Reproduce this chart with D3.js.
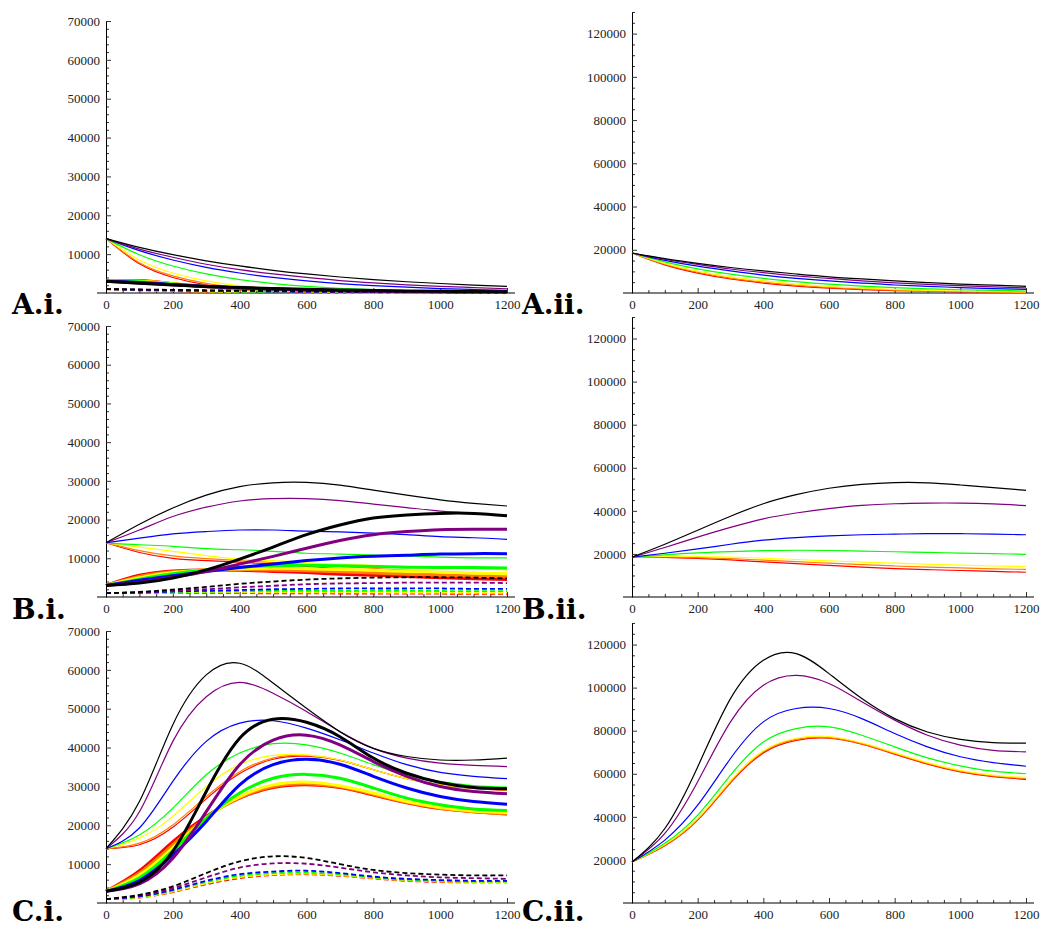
<!DOCTYPE html>
<html>
<head>
<meta charset="utf-8">
<script src="https://cdn.jsdelivr.net/npm/d3@7/dist/d3.min.js"></script>
<style>
  body { margin: 0; background: #ffffff; }
  .tick text { font-family: "Liberation Serif", "Times New Roman", serif; font-size: 13px; fill: #222; }
  .panelLabel { font-family: "DejaVu Serif", serif; font-weight: bold; font-size: 28px; fill: #000; }
</style>
</head>
<body>
<div class="myChart"></div>
<script>
// time points (x) shared by every curve
var xs = [0, 100, 200, 300, 400, 500, 600, 700, 800, 900, 1000, 1100, 1200]

// series order in every group: red, orange, yellow, green, blue, purple, black
var seriesNames = ['red', 'orange', 'yellow', 'green', 'blue', 'purple', 'black']
var seriesColors = ['#ff0000', '#ff8000', '#ffff00', '#00ff00', '#0000ff', '#800080', '#000000']

var xTicks = [0, 200, 400, 600, 800, 1000, 1200]
var yTicksLeft = [10000, 20000, 30000, 40000, 50000, 60000, 70000]
var yTicksRight = [20000, 40000, 60000, 80000, 100000, 120000]

// ---- A.i ----
var aiThin = [
    [14000, 7500, 4000, 2100, 1150, 600, 330, 180, 100, 50, 30, 15, 10],
    [14000, 7800, 4400, 2460, 1380, 770, 430, 240, 135, 75, 42, 24, 13],
    [14000, 8500, 5150, 3120, 1900, 1150, 700, 420, 255, 155, 94, 57, 35],
    [14000, 9860, 6950, 4900, 3450, 2430, 1710, 1200, 850, 600, 420, 300, 210],
    [14000, 10900, 8500, 6600, 5150, 4000, 3100, 2400, 1900, 1500, 1150, 900, 700],
    [14000, 11300, 9200, 7400, 6000, 4900, 4000, 3200, 2600, 2100, 1700, 1400, 1100],
    [14000, 11750, 9870, 8290, 6960, 5840, 4900, 4120, 3460, 2900, 2440, 2050, 1720]
]
var aiThick = [
    [3000, 3200, 2400, 1600, 1000, 650, 400, 250, 150, 100, 60, 40, 20],
    [3000, 3100, 2400, 1700, 1100, 750, 500, 320, 200, 130, 90, 60, 40],
    [3000, 3000, 2400, 1700, 1200, 800, 550, 380, 260, 180, 120, 80, 60],
    [3000, 2900, 2300, 1700, 1250, 900, 650, 460, 330, 240, 170, 120, 90],
    [3000, 2700, 2200, 1700, 1300, 1000, 750, 560, 420, 310, 230, 170, 130],
    [3000, 2600, 2100, 1700, 1350, 1050, 820, 640, 500, 390, 300, 240, 180],
    [3000, 2500, 2050, 1700, 1400, 1150, 950, 780, 640, 530, 440, 360, 300]
]
var aiDash = [
    [1000, 700, 490, 340, 240, 170, 120, 80, 60, 40, 30, 20, 15],
    [1000, 720, 520, 370, 270, 190, 140, 100, 70, 50, 40, 30, 20],
    [1000, 740, 550, 400, 300, 220, 160, 120, 90, 70, 50, 40, 30],
    [1000, 780, 600, 470, 370, 290, 220, 170, 130, 100, 80, 60, 50],
    [1000, 820, 670, 550, 450, 370, 300, 250, 200, 170, 140, 110, 90],
    [1000, 850, 720, 610, 520, 440, 370, 310, 260, 220, 190, 160, 130],
    [1000, 900, 800, 700, 620, 540, 470, 410, 360, 310, 270, 240, 210]
]

// ---- A.ii ----
var aiiThin = [
    [18500, 13000, 9200, 6500, 4600, 3200, 2300, 1600, 1100, 800, 560, 400, 280],
    [18500, 13300, 9600, 6900, 5000, 3600, 2600, 1900, 1300, 950, 690, 500, 360],
    [18500, 13700, 10100, 7500, 5600, 4100, 3000, 2300, 1700, 1250, 920, 680, 500],
    [18500, 14400, 11200, 8700, 6800, 5300, 4100, 3200, 2500, 1950, 1500, 1200, 920],
    [18500, 15100, 12400, 10200, 8300, 6800, 5600, 4600, 3700, 3100, 2500, 2000, 1700],
    [18500, 15600, 13200, 11100, 9400, 7900, 6700, 5600, 4700, 4000, 3400, 2800, 2400],
    [18500, 15900, 13700, 11800, 10200, 8800, 7500, 6500, 5600, 4800, 4100, 3600, 3100]
]

// ---- B.i ----
var biThin = [
    [14000, 11500, 10000, 9400, 9000, 8500, 7900, 7300, 6800, 6300, 5900, 5500, 5200],
    [14000, 12000, 10600, 9900, 9400, 8900, 8400, 7900, 7400, 6900, 6500, 6100, 5700],
    [14000, 12900, 11800, 10700, 9800, 9400, 8900, 8500, 8200, 7900, 7600, 7300, 7000],
    [14000, 13500, 13100, 12500, 12200, 11800, 11300, 11100, 10800, 10600, 10300, 10100, 10100],
    [14000, 15200, 16300, 16900, 17300, 17300, 17000, 16800, 16500, 16100, 15600, 15300, 14900],
    [14000, 17300, 20800, 23200, 24800, 25400, 25400, 24900, 24000, 23100, 22200, 21600, 21100],
    [14000, 18800, 23000, 26300, 28500, 29500, 29600, 28900, 27600, 26300, 25100, 24200, 23500]
]
var biThick = [
    [3000, 5600, 6700, 7000, 6900, 6600, 6300, 5900, 5600, 5300, 5000, 4700, 4500],
    [3000, 5300, 6500, 7000, 7100, 7000, 6800, 6500, 6200, 5900, 5600, 5400, 5200],
    [3000, 5000, 6300, 7000, 7300, 7400, 7300, 7100, 6900, 6600, 6400, 6200, 6000],
    [3000, 4600, 6000, 7000, 7700, 8100, 8200, 8100, 7900, 7700, 7600, 7600, 7500],
    [3000, 4300, 5500, 6600, 7600, 8500, 9400, 10100, 10500, 10800, 11100, 11200, 11200],
    [3000, 3800, 5100, 6600, 8500, 10500, 12600, 14600, 16100, 16900, 17400, 17500, 17500],
    [3000, 3600, 4900, 7000, 9800, 12900, 16100, 18600, 20400, 21200, 21600, 21600, 21000]
]
var biDash = [
    [1000, 1000, 1000, 1000, 1000, 950, 950, 900, 900, 850, 850, 800, 800],
    [1000, 1050, 1100, 1150, 1150, 1150, 1100, 1100, 1050, 1000, 1000, 950, 950],
    [1000, 1100, 1200, 1300, 1300, 1300, 1300, 1300, 1250, 1200, 1200, 1150, 1100],
    [1000, 1100, 1300, 1400, 1500, 1600, 1600, 1600, 1600, 1600, 1550, 1500, 1500],
    [1000, 1100, 1400, 1600, 1800, 2000, 2100, 2200, 2200, 2200, 2200, 2100, 2100],
    [1000, 1200, 1600, 2000, 2500, 2900, 3300, 3500, 3600, 3700, 3700, 3700, 3600],
    [1000, 1300, 1900, 2600, 3400, 4000, 4500, 4800, 5000, 5100, 5100, 5000, 4800]
]

// ---- B.ii ----
var biiThin = [
    [18500, 18400, 17900, 17200, 16300, 15500, 14700, 13900, 13200, 12700, 12300, 11900, 11500],
    [18500, 18600, 18300, 17800, 17100, 16400, 15700, 15000, 14400, 13900, 13500, 13100, 12800],
    [18500, 18800, 18800, 18500, 18000, 17400, 16800, 16200, 15700, 15200, 14800, 14400, 14100],
    [18500, 19600, 20500, 21100, 21500, 21700, 21600, 21300, 21000, 20700, 20400, 20100, 19800],
    [18500, 20300, 22300, 24500, 26400, 27600, 28400, 28900, 29200, 29400, 29400, 29200, 28900],
    [18500, 23000, 27800, 32300, 36300, 39000, 41000, 42500, 43300, 43600, 43600, 43200, 42400],
    [18500, 24500, 31000, 37500, 43300, 47500, 50500, 52300, 53100, 53000, 52000, 50800, 49500]
]

// ---- C.i ----
var ciThin = [
    [14000, 15000, 19500, 26800, 33300, 37000, 37800, 36700, 34300, 32000, 30400, 29500, 29000],
    [14000, 15400, 20100, 27400, 33800, 37300, 38000, 36800, 34300, 32000, 30400, 29600, 29100],
    [14000, 16700, 22300, 30000, 35600, 38000, 38100, 36800, 34300, 32000, 30400, 29600, 29100],
    [14000, 17500, 24400, 33000, 38600, 41000, 40700, 38600, 35600, 33000, 31300, 30200, 29800],
    [14000, 19300, 31300, 41600, 46300, 46900, 45000, 42000, 38600, 35600, 33600, 32600, 32000],
    [14000, 23500, 41600, 53100, 56800, 54000, 49300, 44100, 39800, 37300, 36000, 35400, 35100],
    [14000, 26100, 45900, 58700, 61700, 56600, 50100, 44100, 39800, 37700, 36800, 36800, 37300]
]
var ciThick = [
    [3000, 8300, 15800, 22300, 27000, 29700, 30400, 29700, 27800, 25800, 24300, 23500, 22900],
    [3000, 7700, 15000, 22000, 27100, 30000, 30700, 29900, 28000, 25900, 24400, 23500, 23000],
    [3000, 7200, 14200, 21900, 27400, 30400, 31100, 30200, 28300, 26100, 24600, 23700, 23300],
    [3000, 6500, 13500, 21800, 28300, 32100, 33100, 32100, 29600, 27000, 25300, 24200, 23800],
    [3000, 5800, 12400, 21000, 30400, 35600, 37000, 35700, 32600, 29600, 27400, 26100, 25400],
    [3000, 4900, 11500, 23500, 35600, 41900, 43200, 40700, 36400, 32600, 30000, 28700, 28100],
    [3000, 5300, 13300, 28700, 42400, 47300, 46500, 42800, 37300, 33400, 31000, 29700, 29400]
]
var ciDash = [
    [1000, 1400, 2800, 4800, 6400, 7200, 7400, 7000, 6300, 5700, 5400, 5300, 5300],
    [1000, 1450, 2900, 5000, 6600, 7300, 7500, 7100, 6400, 5800, 5500, 5400, 5400],
    [1000, 1500, 3000, 5100, 6700, 7400, 7600, 7200, 6500, 5900, 5600, 5400, 5400],
    [1000, 1600, 3200, 5400, 7000, 7700, 7800, 7400, 6600, 6000, 5700, 5500, 5500],
    [1000, 1700, 3400, 5700, 7400, 8100, 8300, 7700, 6800, 6200, 5900, 5700, 5700],
    [1000, 1900, 3800, 6600, 9100, 10200, 10100, 9100, 7900, 7100, 6600, 6400, 6200],
    [1000, 2100, 4300, 7700, 10700, 12000, 11600, 10000, 8500, 7700, 7300, 7100, 7100]
]

// ---- C.ii ----
var ciiThin = [
    [19000, 26600, 38500, 55800, 69700, 75500, 76500, 73700, 69100, 64500, 60900, 58700, 57400],
    [19000, 26900, 38900, 56300, 70200, 76000, 76800, 74000, 69400, 64800, 61200, 59000, 57800],
    [19000, 27200, 39300, 56800, 70700, 76500, 77300, 74400, 69800, 65200, 61600, 59400, 58200],
    [19000, 27700, 40800, 59400, 74800, 81000, 81800, 77900, 72500, 67400, 63700, 61200, 60000],
    [19000, 29200, 45400, 67100, 84100, 90300, 90300, 85600, 78700, 72500, 67900, 65200, 63500],
    [19000, 32300, 56300, 84100, 101100, 105700, 101900, 93400, 84900, 77900, 73300, 70900, 70200],
    [19000, 34600, 63200, 94900, 112700, 115800, 106500, 94900, 85600, 79400, 76000, 74500, 74200]
]

// line styles for the three kinds of curve
var styles = {
    thin: { width: 1.2, dash: null },
    thick: { width: 3, dash: null },
    dash: { width: 1.8, dash: '5,3' }
}

var width = 1041
var height = 928

var svg = d3
    .select('.myChart')
    .append('svg')
    .attr('width', width)
    .attr('height', height)
    .style('background-color', '#ffffff')

var panels = [
    { label: 'A.i.', lx: 12, ly: 314, left: 106, right: 507, bottom: 293, top: 21, yMax: 70000,
      yTicks: yTicksLeft, yMinor: 2000, groups: [['thin', aiThin], ['thick', aiThick], ['dash', aiDash]] },
    { label: 'A.ii.', lx: 522, ly: 314, left: 632, right: 1026, bottom: 293, top: 12, yMax: 130000,
      yTicks: yTicksRight, yMinor: 5000, groups: [['thin', aiiThin]] },
    { label: 'B.i.', lx: 12, ly: 619, left: 106, right: 507, bottom: 597, top: 326, yMax: 70000,
      yTicks: yTicksLeft, yMinor: 2000, groups: [['thin', biThin], ['thick', biThick], ['dash', biDash]] },
    { label: 'B.ii.', lx: 522, ly: 619, left: 632, right: 1026, bottom: 597, top: 317, yMax: 130000,
      yTicks: yTicksRight, yMinor: 5000, groups: [['thin', biiThin]] },
    { label: 'C.i.', lx: 12, ly: 921, left: 106, right: 507, bottom: 903, top: 631, yMax: 70000,
      yTicks: yTicksLeft, yMinor: 2000, groups: [['thin', ciThin], ['thick', ciThick], ['dash', ciDash]] },
    { label: 'C.ii.', lx: 522, ly: 921, left: 632, right: 1026, bottom: 903, top: 623, yMax: 130000,
      yTicks: yTicksRight, yMinor: 5000, groups: [['thin', ciiThin]] }
]

panels.forEach(renderPanel)

function renderPanel(p, idx) {
    var xScale = d3.scaleLinear().domain([0, 1200]).range([p.left, p.right])
    var yScale = d3.scaleLinear().domain([0, p.yMax]).range([p.bottom, p.top])

    var g = svg.append('g').attr('class', 'panel')

    // clip to plot range like Mathematica does
    var clipId = 'clip' + idx
    svg.append('clipPath').attr('id', clipId)
        .append('rect')
        .attr('x', p.left - 2)
        .attr('y', p.top)
        .attr('width', p.right - p.left + 4)
        .attr('height', p.bottom - p.top + 1)

    // minor ticks
    var xMinor = d3.range(0, 1201, 50).filter((v) => v % 200 !== 0)
    g.append('g')
        .attr('transform', `translate(0, ${p.bottom})`)
        .call(d3.axisBottom(xScale).tickValues(xMinor).tickSizeInner(-3).tickSizeOuter(0).tickFormat(''))
        .call((a) => a.select('.domain').remove())
    var yMinorVals = d3.range(0, p.yMax + 1, p.yMinor).filter((v) => v > 0 && p.yTicks.indexOf(v) < 0)
    g.append('g')
        .attr('transform', `translate(${p.left}, 0)`)
        .call(d3.axisLeft(yScale).tickValues(yMinorVals).tickSizeInner(-3).tickSizeOuter(0).tickFormat(''))
        .call((a) => a.select('.domain').remove())

    // major ticks + labels
    const xAxis = d3.axisBottom(xScale)
        .tickValues(xTicks)
        .tickSizeInner(-5)
        .tickSizeOuter(0)
        .tickPadding(7)
        .tickFormat(d3.format('d'))
    g.append('g')
        .attr('class', 'xAxis')
        .attr('transform', `translate(0, ${p.bottom})`)
        .call(xAxis)
        .call((a) => a.select('.domain').remove())

    const yAxis = d3.axisLeft(yScale)
        .tickValues(p.yTicks)
        .tickSizeInner(-5)
        .tickSizeOuter(0)
        .tickPadding(6)
        .tickFormat(d3.format('d'))
    g.append('g')
        .attr('class', 'yAxis')
        .attr('transform', `translate(${p.left}, 0)`)
        .call(yAxis)

    g.selectAll('.tick line').attr('stroke', '#333')

    // x axis line runs a little past the plot on both sides
    g.append('line')
        .attr('x1', p.left - 9)
        .attr('x2', p.right + 8)
        .attr('y1', p.bottom)
        .attr('y2', p.bottom)
        .attr('stroke', '#000')
        .attr('stroke-width', 1)

    var line = d3.line()
        .x((d, i) => xScale(xs[i]))
        .y((d) => yScale(d))
        .curve(d3.curveNatural)

    var plot = g.append('g').attr('clip-path', `url(#${clipId})`)

    p.groups.forEach((grp) => {
        var st = styles[grp[0]]
        grp[1].forEach((vals, k) => {
            plot.append('path')
                .datum(vals)
                .attr('class', 'line ' + seriesNames[k])
                .attr('d', line)
                .attr('fill', 'none')
                .attr('stroke', seriesColors[k])
                .attr('stroke-width', st.width)
                .attr('stroke-dasharray', st.dash)
                .attr('stroke-linejoin', 'round')
        })
    })

    svg.append('text')
        .attr('class', 'panelLabel')
        .attr('x', p.lx)
        .attr('y', p.ly)
        .text(p.label)
}
</script>
</body>
</html>
